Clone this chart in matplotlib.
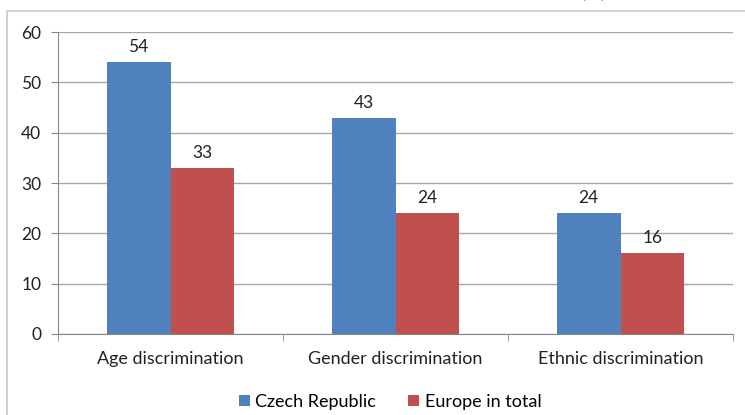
import matplotlib
matplotlib.use("Agg")
import matplotlib.pyplot as plt
import numpy as np
from matplotlib.patches import Rectangle

categories = ["Age discrimination", "Gender discrimination", "Ethnic discrimination"]
czech = [54, 43, 24]
europe = [33, 24, 16]
series_names = ["Czech Republic", "Europe in total"]
yticks = [0, 10, 20, 30, 40, 50, 60]

plt.rcParams['font.family'] = ['Lato', 'DejaVu Sans']

fig = plt.figure(figsize=(7.45, 4.15), dpi=100)
W, H = 745, 415
ax = fig.add_axes([58/W, 1-334/H, (733-58)/W, (334-32)/H])

# outer chart frame
fig.patches.append(Rectangle((7/W, -0.1), 1.0, 1-11/H+0.1, transform=fig.transFigure,
                             fill=False, edgecolor='#c8c8c8', lw=1.2))
fig.text(593/W, 1+9/H, "(%)", ha='center', va='center', fontsize=14, color='#404040')

x = np.arange(len(categories))
bw = 0.284
blue = '#4F81BD'
red = '#C0504D'
b1 = ax.bar(x - bw/2, czech, bw, color=blue, label=series_names[0], zorder=3)
b2 = ax.bar(x + bw/2, europe, bw, color=red, label=series_names[1], zorder=3)
for bars, vals in ((b1, czech), (b2, europe)):
    for r, v in zip(bars, vals):
        ax.text(r.get_x() + r.get_width()/2, v + 1.4, str(v), ha='center', va='bottom',
                fontsize=12.5, color='#222222')

ax.set_xlim(-0.5, 2.5)
ax.set_ylim(0, 60)
ax.set_yticks(yticks)
ax.set_yticklabels([str(t) for t in yticks], fontsize=12.5, color='#222222')
ax.yaxis.grid(True, color='#a6a6a6', lw=1.0, zorder=0)
ax.set_axisbelow(True)
ax.tick_params(axis='y', length=5, color='#888888', pad=7)
ax.set_xticks(x)
ax.set_xticklabels(categories, fontsize=13, color='#222222')
ax.tick_params(axis='x', length=0, pad=12)
ax.set_xticks([-0.5, 0.5, 1.5, 2.5], minor=True)
ax.tick_params(axis='x', which='minor', length=5, color='#888888')
for s in ['top', 'right']:
    ax.spines[s].set_visible(False)
ax.spines['left'].set_color('#888888')
ax.spines['bottom'].set_color('#888888')

fig.legend(handles=[b1, b2], labels=series_names, loc='center', bbox_to_anchor=(390/W, 1-402/H),
           ncol=2, frameon=False, fontsize=13, handlelength=0.6, handleheight=0.6,
           handletextpad=0.3, columnspacing=1.8)

fig.savefig("out.png", dpi=100)
